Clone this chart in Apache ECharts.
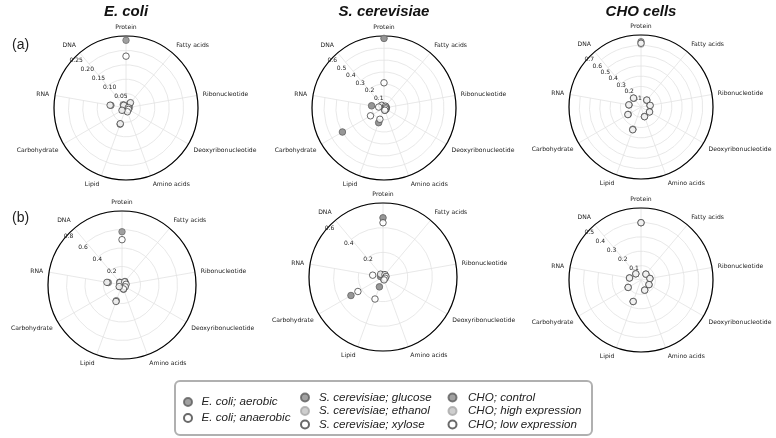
<!DOCTYPE html>
<html><head><meta charset="utf-8">
<script src="https://cdn.jsdelivr.net/npm/echarts/dist/echarts.min.js"></script>
<style>html,body{margin:0;padding:0;background:#fff}#c{width:776px;height:438px}</style>
</head><body><div id="c"></div>
<script>
// angular categories (clockwise starting from DNA at 130 deg so Protein is at the top)
const categories = ['DNA','Protein','Fatty acids','Ribonucleotide','Deoxyribonucleotide','Amino acids','Lipid','Carbohydrate','RNA'];

// radial tick settings per panel
const radialMax = [0.25, 0.6, 0.7, 0.8, 0.6, 0.5];
const radialStep = [0.05, 0.1, 0.1, 0.2, 0.2, 0.1];
const radialDecimals = [2, 1, 1, 1, 1, 1];

// (a) E. coli
const ecoliAerobicA   = [0.015, 0.235, 0.020, 0.012, 0.006, 0.010, 0.060, 0.012, 0.053];
const ecoliAnaerobicA = [0.012, 0.180, 0.024, 0.008, 0.010, 0.014, 0.058, 0.016, 0.056];
// (b) E. coli
const ecoliAerobicB   = [0.040, 0.576, 0.050, 0.040, 0.030, 0.050, 0.180, 0.030, 0.150];
const ecoliAnaerobicB = [0.035, 0.490, 0.045, 0.045, 0.040, 0.045, 0.190, 0.035, 0.165];
// (a) S. cerevisiae
const scGlucoseA = [0.020, 0.580, 0.015, 0.020, 0.020, 0.020, 0.130, 0.400, 0.105];
const scEthanolA = [0.020, 0.580, 0.015, 0.020, 0.020, 0.020, 0.130, 0.400, 0.105];
const scXyloseA  = [0.030, 0.210, 0.020, 0.015, 0.015, 0.020, 0.100, 0.130, 0.045];
// (b) S. cerevisiae
const scGlucoseB = [0.020, 0.480, 0.020, 0.020, 0.015, 0.020, 0.085, 0.300, 0.020];
const scEthanolB = [0.020, 0.480, 0.020, 0.020, 0.015, 0.020, 0.085, 0.300, 0.020];
const scXyloseB  = [0.030, 0.440, 0.025, 0.025, 0.020, 0.025, 0.190, 0.235, 0.085];
// (a) CHO
const choControlA = [0.110, 0.635, 0.085, 0.088, 0.094, 0.098, 0.230, 0.143, 0.118];
const choHighA    = [0.115, 0.610, 0.088, 0.090, 0.096, 0.100, 0.235, 0.147, 0.120];
const choLowA     = [0.113, 0.620, 0.088, 0.090, 0.096, 0.100, 0.235, 0.147, 0.120];
// (b) CHO
const choControlB = [0.056, 0.398, 0.053, 0.063, 0.064, 0.075, 0.159, 0.103, 0.081];
const choHighB    = [0.056, 0.398, 0.053, 0.063, 0.064, 0.075, 0.159, 0.103, 0.081];
const choLowB     = [0.056, 0.398, 0.053, 0.063, 0.064, 0.075, 0.159, 0.103, 0.081];

const titles = ['E. coli', 'S. cerevisiae', 'CHO cells'];
const rowLabels = ['(a)', '(b)'];

const panels = [
  {cx:126, cy:108, r:72}, {cx:384, cy:108, r:72}, {cx:641, cy:107, r:72},
  {cx:122, cy:285, r:74}, {cx:383, cy:277, r:74}, {cx:641, cy:280, r:72}
];

const styleDark  = {color:'#8a8a8a', borderColor:'#5e5e5e', borderWidth:0.8};
const styleLight = {color:'#c2c2c2', borderColor:'#a8a8a8', borderWidth:0.8};
const styleOpen  = {color:'#ffffff', borderColor:'#444444', borderWidth:1};

const seriesDefs = [
  {name:'E. coli; aerobic', st:styleDark, z:2, data:[[0,ecoliAerobicA],[3,ecoliAerobicB]]},
  {name:'E. coli; anaerobic', st:styleOpen, z:3, data:[[0,ecoliAnaerobicA],[3,ecoliAnaerobicB]]},
  {name:'S. cerevisiae; glucose', st:styleDark, z:2, data:[[1,scGlucoseA],[4,scGlucoseB]]},
  {name:'S. cerevisiae; ethanol', st:styleLight, z:1, data:[[1,scEthanolA],[4,scEthanolB]]},
  {name:'S. cerevisiae; xylose', st:styleOpen, z:3, data:[[1,scXyloseA],[4,scXyloseB]]},
  {name:'CHO; control', st:styleDark, z:1, data:[[2,choControlA],[5,choControlB]]},
  {name:'CHO; high expression', st:styleLight, z:2, data:[[2,choHighA],[5,choHighB]]},
  {name:'CHO; low expression', st:styleOpen, z:3, data:[[2,choLowA],[5,choLowB]]}
];

const series = [];
seriesDefs.forEach(d => {
  d.data.forEach(([pi, vals]) => {
    series.push({
      name: d.name, type:'scatter', coordinateSystem:'polar', polarIndex: pi,
      symbol:'circle', symbolSize:6.5, z: d.z + 3, itemStyle: d.st,
      data: categories.map((c,k) => [vals[k], c]),
      emphasis:{disabled:true}
    });
  });
});

const font = 'DejaVu Sans';
const n = panels.length;
const EPS = 1e-9; // guards the last tick against floating point round-off
// main polar grids + overlay polars (same place) that carry the full outer circle and the radial tick labels at 141 deg
const polar = panels.map(p => ({center:[p.cx, p.cy], radius:p.r}))
  .concat(panels.map(p => ({center:[p.cx, p.cy], radius:p.r})));

const angleAxis = panels.map((p,i) => ({
    polarIndex:i, type:'category', data:categories, startAngle:130, clockwise:true, boundaryGap:false,
    axisLine:{show:false},
    axisTick:{show:false},
    axisLabel:{fontFamily:font, fontSize:6.1, color:'#222', margin:6},
    splitLine:{show:true, lineStyle:{color:'#e2e2e2', width:0.8}},
    z:1
  })).concat(panels.map((p,i) => ({
    polarIndex:n+i, type:'value', min:0, max:360, startAngle:141, clockwise:true,
    axisLine:{show:true, lineStyle:{color:'#000', width:1.2}},
    axisTick:{show:false}, axisLabel:{show:false}, splitLine:{show:false},
    z:3
  })));

const radiusAxis = panels.map((p,i) => ({
    polarIndex:i, type:'value', min:0, max:radialMax[i] + EPS, interval:radialStep[i],
    axisLine:{show:false}, axisTick:{show:false}, axisLabel:{show:false},
    splitLine:{show:true, lineStyle:{color:'#e2e2e2', width:0.8}},
    z:1
  })).concat(panels.map((p,i) => ({
    polarIndex:n+i, type:'value', min:0, max:radialMax[i] + EPS, interval:radialStep[i],
    axisLine:{show:false}, axisTick:{show:false}, splitLine:{show:false},
    axisLabel:{fontFamily:font, fontSize:6, color:'#222', showMinLabel:false, showMaxLabel:true, margin:1,
      align:'left', verticalAlign:'bottom',
      formatter: v => v.toFixed(radialDecimals[i])},
    z:3
  })));

const option = {
  animation:false,
  backgroundColor:'#fff',
  title: [
    ...titles.map((t,i) => ({text:t, left:[126,384,641][i], top:4, padding:0, textAlign:'center',
      textStyle:{fontFamily:'Liberation Sans', fontSize:15, fontWeight:'bold', fontStyle:'italic', color:'#111'}})),
    ...rowLabels.map((t,i) => ({text:t, left:12, top:[38,211][i], padding:0,
      textStyle:{fontFamily:'Liberation Sans', fontSize:14, fontWeight:'normal', color:'#222'}}))
  ],
  polar, angleAxis, radiusAxis,
  legend: [
    {left:183, top:396, orient:'vertical', itemWidth:17, itemHeight:8, itemGap:4,
     data:['E. coli; aerobic','E. coli; anaerobic']},
    {left:300, top:391.5, orient:'vertical', itemWidth:18, itemHeight:8, itemGap:1.5,
     data:['S. cerevisiae; glucose','S. cerevisiae; ethanol','S. cerevisiae; xylose']},
    {left:447.5, top:391.5, orient:'vertical', itemWidth:21, itemHeight:8, itemGap:1.5,
     data:['CHO; control','CHO; high expression','CHO; low expression']}
  ].map(l => Object.assign(l, {icon:'circle', selectedMode:false, padding:0,
     textStyle:{fontFamily:'Liberation Sans', fontSize:11.6, fontStyle:'italic', color:'#222'}})),
  graphic: [{type:'rect', z:-1, shape:{x:175, y:381, width:417, height:54, r:5},
    style:{fill:'#fff', stroke:'#b0b0b0', lineWidth:2}}],
  series: series
};
const chart = echarts.init(document.getElementById('c'), null, {renderer:'canvas'});
chart.setOption(option);
</script></body></html>
